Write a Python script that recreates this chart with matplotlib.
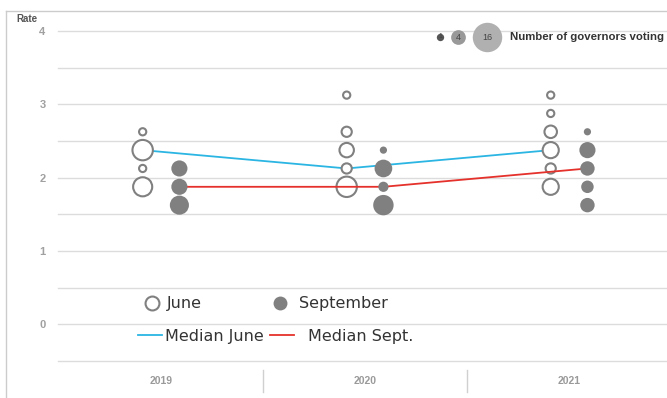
import matplotlib.pyplot as plt
import numpy as np
from matplotlib.lines import Line2D
from matplotlib.legend import Legend

# dot plot data: rate levels and number of governors at each level
years = ['2019', '2020', '2021']

june_rates = [
    [2.625, 2.375, 2.125, 1.875],
    [3.125, 2.625, 2.375, 2.125, 1.875],
    [3.125, 2.875, 2.625, 2.375, 2.125, 1.875],
]
june_counts = [
    [1, 8, 1, 7],
    [1, 2, 4, 2, 8],
    [1, 1, 3, 5, 2, 5],
]
sept_rates = [
    [2.125, 1.875, 1.625],
    [2.375, 2.125, 1.875, 1.625],
    [2.625, 2.375, 2.125, 1.875, 1.625],
]
sept_counts = [
    [5, 5, 7],
    [1, 6, 2, 8],
    [1, 5, 4, 3, 4],
]
median_june = [2.375, 2.125, 2.375]
median_sept = [1.875, 1.875, 2.125]

legend_sizes = [1, 4, 16]

plt.rcParams['font.family'] = ['Liberation Sans', 'DejaVu Sans']

W, H = 667, 398
fig = plt.figure(figsize=(W / 100, H / 100), dpi=100)
ax = fig.add_axes([58 / W, (H - 361) / H, 1 - 58 / W, (361 - 23.6) / H])

SCALE = 27  # marker area (pt^2) per governor
OFF = 0.09
GRAY = '#808080'
BLUE = '#2bb5e3'
RED = '#e5312b'
X = np.arange(len(years))

for y in np.arange(-0.5, 4.01, 0.5):
    ax.axhline(y, color='#dcdcdc', lw=1, zorder=0, clip_on=False)

for i in range(len(years)):
    ax.scatter([X[i] - OFF] * len(june_rates[i]), june_rates[i],
               s=np.array(june_counts[i]) * SCALE, facecolor='white',
               edgecolor=GRAY, linewidth=1.5, zorder=3)
    ax.scatter([X[i] + OFF] * len(sept_rates[i]), sept_rates[i],
               s=np.array(sept_counts[i]) * SCALE, facecolor=GRAY,
               edgecolor='none', zorder=5)

ax.plot(X - OFF, median_june, color=BLUE, lw=1.3, zorder=2)
ax.plot(X + OFF, median_sept, color=RED, lw=1.3, zorder=4)

ax.set_xlim(-0.505, 2.48)
ax.set_ylim(-0.5, 4.1)
ax.set_yticks([0, 1, 2, 3, 4])
ax.set_yticklabels(['0', '1', '2', '3', '4'], color='#a0a0a0',
                   fontsize=8, fontweight='bold')
ax.tick_params(axis='y', length=0, pad=9)
ax.set_xticks([])
for s in ax.spines.values():
    s.set_visible(False)

# year labels and separators under the plot
tr = ax.get_xaxis_transform()
for i, yr in enumerate(years):
    ax.text(X[i], -0.058, yr, transform=tr, ha='center', va='center',
            fontsize=7.5, fontweight='bold', color='#9a9a9a')
for xs in [0.5, 1.5]:
    ax.plot([xs, xs], [-0.027, -0.092], transform=tr, color='#d0d0d0',
            lw=1, clip_on=False)

# legend entries, each placed on its own
lprop = {'family': ['DejaVu Sans'], 'size': 11.5}
entries = [
    (Line2D([], [], ls='none', marker='o', ms=10, mfc='white', mec=GRAY,
            mew=1.5), 'June', 0.142, 0.169, 1.0, 0.4),
    (Line2D([], [], ls='none', marker='o', ms=10, mfc=GRAY, mec='none'),
     'September', 0.352, 0.169, 1.0, 0.65),
    (Line2D([], [], color=BLUE, lw=1.3), 'Median June', 0.131, 0.074,
     1.5, 0.2),
    (Line2D([], [], color=RED, lw=1.3), 'Median Sept.', 0.348, 0.074,
     1.5, 0.9),
]
for h, lab, lx, ly, hl, hp in entries:
    lg = Legend(ax, [h], [lab], frameon=False, loc='center left',
                bbox_to_anchor=(lx, ly), prop=lprop, borderpad=0,
                borderaxespad=0, handlelength=hl, handletextpad=hp)
    lg.get_texts()[0].set_color('#333333')
    ax.add_artist(lg)

# size key at top right
kx = [440 / W, 458 / W, 487 / W]
ky = (H - 37) / H
kcol = ['#555555', '#999999', '#b0b0b0']
for x, n, c in zip(kx, legend_sizes, kcol):
    fig.add_artist(Line2D([x], [ky], ls='none', marker='o',
                          ms=5.3 * np.sqrt(n), mfc=c, mec='none'))
    fig.text(x, ky, str(n), ha='center', va='center',
             fontsize=6.5 if n > 1 else 5, color='#444444')
fig.text(510 / W, ky, 'Number of governors voting', ha='left', va='center',
         fontsize=8.2, fontweight='bold', color='#333333')

fig.text(16 / W, (H - 19) / H, 'Rate', ha='left', va='center', fontsize=7,
         fontweight='bold', color='#555555')

# outer frame lines (top and left)
fig.add_artist(Line2D([6 / W, 1], [(H - 11) / H] * 2, color='#cccccc', lw=1))
fig.add_artist(Line2D([6 / W] * 2, [0, (H - 11) / H], color='#cccccc', lw=1))

fig.savefig('out.png', dpi=100)
